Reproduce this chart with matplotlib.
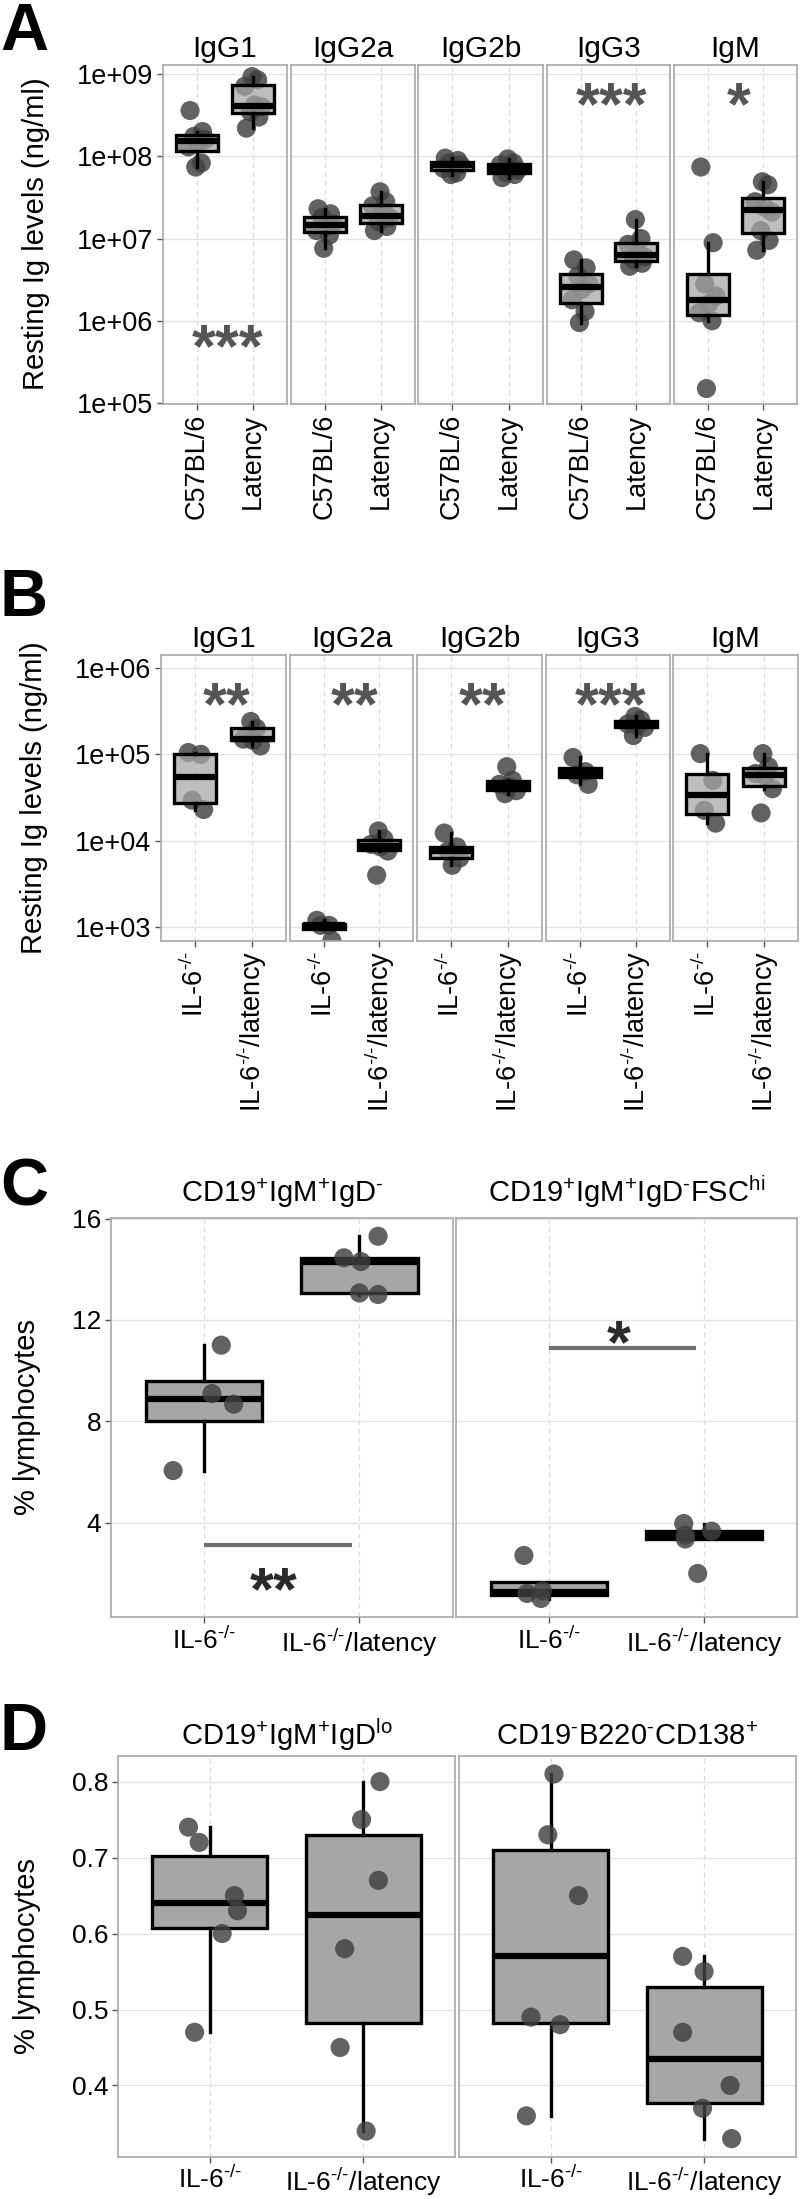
import numpy as np
import matplotlib
matplotlib.use("Agg")
import matplotlib.pyplot as plt
from matplotlib import cbook

plt.rcParams["font.family"] = ["Liberation Sans", "DejaVu Sans"]
plt.rcParams["mathtext.fontset"] = "custom"
plt.rcParams["mathtext.rm"] = "Liberation Sans"
plt.rcParams["mathtext.it"] = "Liberation Sans"
plt.rcParams["mathtext.default"] = "regular"

W, H = 800, 2199

# ---------------- data ----------------
ig_classes = ["IgG1", "IgG2a", "IgG2b", "IgG3", "IgM"]

# A: resting Ig (ng/ml), C57BL/6 vs Latency
a_groups = ["C57BL/6", "Latency"]
a_c57 = [
    [3.6e8, 2.0e8, 1.75e8, 1.6e8, 1.45e8, 1.3e8, 8.3e7, 7.4e7],
    [2.3e7, 2.0e7, 1.8e7, 1.5e7, 1.4e7, 1.25e7, 1.1e7, 7.6e6],
    [9.5e7, 8.9e7, 8.3e7, 7.9e7, 7.6e7, 7.1e7, 6.3e7, 6.0e7],
    [5.5e6, 4.4e6, 3.5e6, 2.8e6, 2.4e6, 1.8e6, 1.3e6, 9.5e5],
    [7.4e7, 8.9e6, 2.8e6, 2.0e6, 1.6e6, 1.25e6, 1.0e6, 1.5e5],
]
a_lat = [
    [9.3e8, 8.5e8, 7.1e8, 4.2e8, 4.0e8, 3.5e8, 3.0e8, 2.2e8],
    [3.7e7, 2.8e7, 2.5e7, 2.0e7, 1.8e7, 1.6e7, 1.4e7, 1.25e7],
    [9.3e7, 8.3e7, 7.9e7, 7.1e7, 6.8e7, 6.3e7, 6.0e7, 5.5e7],
    [1.7e7, 1.0e7, 8.5e6, 6.6e6, 6.0e6, 5.5e6, 5.0e6, 4.6e6],
    [4.9e7, 4.5e7, 2.8e7, 2.4e7, 2.1e7, 1.25e7, 9.5e6, 7.2e6],
]
a_stars = ["***", "", "", "***", "*"]
a_star_y = [6.8e5, None, None, 6.0e8, 6.0e8]
a_yticks = [1e5, 1e6, 1e7, 1e8, 1e9]
a_yticklabels = ["1e+05", "1e+06", "1e+07", "1e+08", "1e+09"]

# B: IL-6-/- vs IL-6-/-/latency
b_groups = [r"IL-6$^{\text{-/-}}$", r"IL-6$^{\text{-/-}}$/latency"]
b_il6 = [
    [1.05e5, 1.0e5, 2.95e4, 2.3e4],
    [1.2e3, 1.05e3, 1.05e3, 7.0e2],
    [1.23e4, 8.5e3, 7.6e3, 6.3e3, 5.2e3],
    [9.2e4, 6.3e4, 5.8e4, 4.5e4],
    [1.02e5, 5.0e4, 2.25e4, 1.6e4],
]
b_lat = [
    [2.4e5, 2.0e5, 1.5e5, 1.45e5, 1.25e5],
    [1.3e4, 1.05e4, 9.1e3, 8.5e3, 7.6e3, 4.0e3],
    [7.2e4, 5.0e4, 4.5e4, 4.2e4, 3.8e4, 3.5e4],
    [2.75e5, 2.5e5, 2.25e5, 2.15e5, 2.05e5, 1.65e5],
    [1.02e5, 7.2e4, 6.0e4, 5.6e4, 4.0e4, 2.1e4],
]
b_stars = ["**", "**", "**", "***", ""]
b_star_y = 5.25e5
b_yticks = [1e3, 1e4, 1e5, 1e6]
b_yticklabels = ["1e+03", "1e+04", "1e+05", "1e+06"]

# C: % lymphocytes
c_titles = [r"CD19$^{+}$IgM$^{+}$IgD$^{\text{-}}$",
            r"CD19$^{+}$IgM$^{+}$IgD$^{\text{-}}$FSC$^{hi}$"]
c_il6 = [[11.0, 9.09, 8.67, 6.05], [2.7, 1.3, 1.2, 1.0]]
c_lat = [[15.3, 14.45, 14.3, 13.06, 13.0], [3.96, 3.66, 3.5, 3.35, 1.99]]
c_bar_y = [3.13, 10.88]
c_stars = ["**", "*"]
c_star_y = [1.83, 11.6]

# D: % lymphocytes
d_titles = [r"CD19$^{+}$IgM$^{+}$IgD$^{lo}$",
            r"CD19$^{\text{-}}$B220$^{\text{-}}$CD138$^{+}$"]
d_il6 = [[0.74, 0.72, 0.65, 0.63, 0.60, 0.47], [0.81, 0.73, 0.65, 0.49, 0.48, 0.36]]
d_lat = [[0.80, 0.75, 0.67, 0.58, 0.45, 0.34], [0.57, 0.55, 0.47, 0.40, 0.37, 0.33]]

# jitter (x offsets in category units), style only
jit_cycle = [-0.12, 0.10, -0.05, 0.15, 0.02, -0.15, 0.08, -0.02]
c_jit_il6 = [[0.11, 0.05, 0.19, -0.20], [-0.16, -0.04, -0.14, -0.05]]
c_jit_lat = [[0.12, -0.10, 0.01, 0.0, 0.12], [-0.13, 0.05, -0.12, -0.12, -0.04]]
d_jit_il6 = [[-0.14, -0.07, 0.16, 0.18, 0.08, -0.10], [0.02, -0.02, 0.18, -0.13, 0.06, -0.16]]
d_jit_lat = [[0.11, -0.01, 0.10, -0.12, -0.15, 0.02], [-0.14, 0.0, -0.14, 0.17, -0.01, 0.18]]

PT = "#404040"
BOXFILL = "#a6a6a6"
STAR_AB = "#555555"

fig = plt.figure(figsize=(W / 100, H / 100), dpi=100)


def px_axes(x0, x1, y0, y1):
    return fig.add_axes([x0 / W, 1 - y1 / H, (x1 - x0) / W, (y1 - y0) / H])


def style(ax):
    for sp in ax.spines.values():
        sp.set_color("#a8a8a8")
        sp.set_linewidth(1.2)
    ax.set_facecolor("white")
    ax.grid(axis="y", color="#e4e4e4", lw=1.0, ls="-")
    ax.grid(axis="x", color="#dcdcdc", lw=0.9, ls=(0, (4, 3)))
    ax.set_axisbelow(True)
    ax.tick_params(direction="out", length=4, width=1, color="#555555", pad=3)
    ax.set_xlim(0.4, 2.6)
    ax.minorticks_off()


def box(ax, pos, vals, jit, log=False, pts_top=True):
    v = np.log10(vals) if log else np.asarray(vals, float)
    st = cbook.boxplot_stats(v, whis=1.5)[0]
    if log:
        for k in ["med", "q1", "q3", "whislo", "whishi", "mean"]:
            st[k] = 10 ** st[k]
    st["fliers"] = []
    fill = BOXFILL if pts_top else (0.65, 0.65, 0.65, 0.72)
    ax.bxp([st], positions=[pos], widths=0.75, patch_artist=True,
           showcaps=False, showfliers=False,
           boxprops=dict(facecolor=fill, edgecolor="black", linewidth=2.4),
           medianprops=dict(color="black", linewidth=4.5, solid_capstyle="butt"),
           whiskerprops=dict(color="black", linewidth=2.4),
           zorder=2 if pts_top else 3)
    xs = pos + np.array([jit[i % len(jit)] for i in range(len(vals))])
    ax.scatter(xs, vals, s=190, color=PT, alpha=0.82, edgecolors="none",
               zorder=3 if pts_top else 2)


def stars(ax, x, y, s, color, fs=44):
    ax.annotate(s, xy=(x, y), xytext=(0, -0.52 * fs), textcoords="offset points",
                ha="center", va="baseline", fontsize=fs, color=color,
                fontweight="bold", annotation_clip=False, zorder=5)


# ---------------- panel A ----------------
a_x = [(163, 287), (291, 415), (418, 543), (547, 670), (674, 797)]
for i, (x0, x1) in enumerate(a_x):
    ax = px_axes(x0, x1, 65, 404)
    ax.set_yscale("log")
    style(ax)
    ax.set_ylim(10 ** 4.988, 10 ** 9.11)
    box(ax, 1, a_c57[i], jit_cycle, log=True, pts_top=False)
    box(ax, 2, a_lat[i], jit_cycle[::-1], log=True, pts_top=False)
    ax.set_xticks([1, 2])
    ax.set_xticklabels(a_groups, rotation=90, fontsize=19.5)
    ax.set_yticks(a_yticks)
    ax.minorticks_off()
    if i == 0:
        ax.set_yticklabels(a_yticklabels, fontsize=19.5)
    else:
        ax.set_yticklabels([])
        ax.tick_params(axis="y", length=0)
    if a_stars[i]:
        stars(ax, 1.55, a_star_y[i], a_stars[i], STAR_AB)
    fig.text((x0 + x1) / 2 / W, 1 - 57 / H, ig_classes[i], ha="center",
             va="baseline", fontsize=21.5)
fig.text(36 / W, 1 - 234 / H, "Resting Ig levels (ng/ml)", rotation=90,
         ha="center", va="center", fontsize=21)
fig.text(0, 1 - 2 / H, "A", ha="left", va="top", fontsize=48, fontweight="bold")

# ---------------- panel B ----------------
b_x = [(161, 286), (290, 413), (417, 542), (546, 670), (673, 798)]
for i, (x0, x1) in enumerate(b_x):
    ax = px_axes(x0, x1, 655, 941)
    ax.set_yscale("log")
    style(ax)
    ax.set_ylim(10 ** 2.84, 10 ** 6.15)
    box(ax, 1, b_il6[i], jit_cycle, log=True, pts_top=False)
    box(ax, 2, b_lat[i], jit_cycle[::-1], log=True, pts_top=False)
    ax.set_xticks([1, 2])
    ax.set_xticklabels(b_groups, rotation=90, fontsize=19.5)
    ax.set_yticks(b_yticks)
    ax.minorticks_off()
    if i == 0:
        ax.set_yticklabels(b_yticklabels, fontsize=19.5)
    else:
        ax.set_yticklabels([])
        ax.tick_params(axis="y", length=0)
    if b_stars[i]:
        stars(ax, 1.55, b_star_y, b_stars[i], STAR_AB)
    fig.text((x0 + x1) / 2 / W, 1 - 647 / H, ig_classes[i], ha="center",
             va="baseline", fontsize=21.5)
fig.text(34 / W, 1 - 798 / H, "Resting Ig levels (ng/ml)", rotation=90,
         ha="center", va="center", fontsize=21)
fig.text(0, 1 - 568 / H, "B", ha="left", va="top", fontsize=48, fontweight="bold")

# ---------------- panel C ----------------
c_x = [(111, 452.6), (455.6, 797)]
for i, (x0, x1) in enumerate(c_x):
    ax = px_axes(x0, x1, 1218, 1617)
    style(ax)
    ax.set_ylim(0.27, 16.02)
    box(ax, 1, c_il6[i], c_jit_il6[i])
    box(ax, 2, c_lat[i], c_jit_lat[i])
    ax.plot([1, 1.95], [c_bar_y[i], c_bar_y[i]], color="#707070", lw=3, zorder=4,
            solid_capstyle="butt")
    stars(ax, 1.45, c_star_y[i], c_stars[i], "#2a2a2a")
    ax.set_xticks([1, 2])
    ax.set_xticklabels(b_groups, fontsize=19)
    ax.set_yticks([4, 8, 12, 16])
    if i == 0:
        ax.set_yticklabels(["4", "8", "12", "16"], fontsize=19)
    else:
        ax.set_yticklabels([])
        ax.tick_params(axis="y", length=0)
    fig.text((x0 + x1) / 2 / W, 1 - 1202 / H, c_titles[i], ha="center",
             va="baseline", fontsize=21)
fig.text(27 / W, 1 - 1417 / H, "% lymphocytes", rotation=90,
         ha="center", va="center", fontsize=21)
fig.text(0, 1 - 1157 / H, "C", ha="left", va="top", fontsize=48, fontweight="bold")

# ---------------- panel D ----------------
d_x = [(118, 455), (459, 796)]
for i, (x0, x1) in enumerate(d_x):
    ax = px_axes(x0, x1, 1756, 2156.5)
    style(ax)
    ax.set_ylim(0.3065, 0.8337)
    box(ax, 1, d_il6[i], d_jit_il6[i])
    box(ax, 2, d_lat[i], d_jit_lat[i])
    ax.set_xticks([1, 2])
    ax.set_xticklabels(b_groups, fontsize=19)
    ax.set_yticks([0.4, 0.5, 0.6, 0.7, 0.8])
    if i == 0:
        ax.set_yticklabels(["0.4", "0.5", "0.6", "0.7", "0.8"], fontsize=19)
    else:
        ax.set_yticklabels([])
        ax.tick_params(axis="y", length=0)
    fig.text((x0 + x1) / 2 / W, 1 - 1745 / H, d_titles[i], ha="center",
             va="baseline", fontsize=21)
fig.text(27 / W, 1 - 1956 / H, "% lymphocytes", rotation=90,
         ha="center", va="center", fontsize=21)
fig.text(0, 1 - 1702 / H, "D", ha="left", va="top", fontsize=48, fontweight="bold")

fig.savefig("out.png", dpi=100, facecolor="white")
